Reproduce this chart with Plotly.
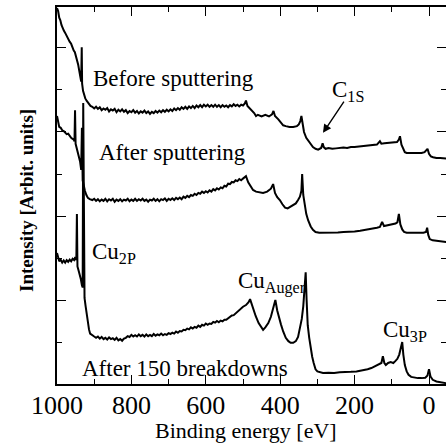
import plotly.graph_objects as go

# ---------------- data ----------------
before_energy = [1000, 997, 994, 991, 988, 985, 982, 978, 974, 970, 966, 962, 958, 955, 952, 949, 946, 943, 940, 937, 935,
                 933.5, 932.5, 930, 927, 924, 920, 915, 910, 905,
                 900, 895, 890, 885, 880, 875, 870, 865, 860, 855, 850, 845, 840, 835, 830, 825, 820, 815, 810, 805,
                 800, 795, 790, 785, 780, 775, 770, 765, 760, 755, 750, 745, 740, 735, 730, 725, 720, 715, 710, 705,
                 700, 695, 690, 685, 680, 675, 670, 665, 660, 655, 650, 645, 640, 635, 630, 625, 620, 615, 610, 605,
                 600, 595, 590, 585, 580, 575, 570, 565, 560, 555, 550, 545, 540, 535, 530, 525, 520, 515, 510, 505,
                 500, 495, 492, 488, 480, 470, 465, 460, 450, 440, 430, 422, 418, 414, 405, 398, 392, 385, 375, 365, 355,
                 350, 346, 343, 340, 336, 330, 325, 318, 312, 305, 298, 290, 286, 283, 278, 270, 260, 250, 240, 230,
                 220, 210, 200, 190, 180, 170, 160, 150, 140, 132, 128, 120, 110, 100, 92, 86, 81, 78, 74, 70, 65,
                 60, 50, 40, 30, 20, 12, 8, 4, 0, -5, -11, -20, -30, -46]
before_value = [8.95, 8.88, 8.72, 8.66, 8.55, 8.47, 8.42, 8.36, 8.28, 8.24, 8.15, 8.10, 7.98, 7.94, 7.90, 7.80, 7.76, 7.60, 7.45, 7.30, 7.20,
                8.02, 7.15, 6.98, 6.88, 6.80, 6.74, 6.68, 6.62, 6.60,
                6.56, 6.60, 6.55, 6.59, 6.52, 6.56, 6.53, 6.57, 6.49, 6.54, 6.51, 6.55, 6.47, 6.53, 6.49, 6.54, 6.48, 6.52, 6.45, 6.50,
                6.47, 6.52, 6.46, 6.50, 6.44, 6.49, 6.46, 6.51, 6.45, 6.49, 6.43, 6.48, 6.45, 6.50, 6.46, 6.51, 6.47, 6.52, 6.48, 6.53,
                6.49, 6.54, 6.50, 6.56, 6.52, 6.57, 6.53, 6.59, 6.55, 6.60, 6.55, 6.61, 6.57, 6.62, 6.57, 6.63, 6.59, 6.64, 6.59, 6.65,
                6.61, 6.65, 6.60, 6.64, 6.60, 6.65, 6.60, 6.64, 6.59, 6.64, 6.60, 6.63, 6.59, 6.64, 6.61, 6.66, 6.62, 6.65, 6.61, 6.65,
                6.63, 6.68, 6.75, 6.62, 6.55, 6.45, 6.38, 6.41, 6.37, 6.41, 6.37, 6.42, 6.50, 6.38, 6.30, 6.22, 6.16, 6.14, 6.12, 6.12, 6.14,
                6.18, 6.26, 6.38, 6.20, 6.00, 5.86, 5.80, 5.70, 5.64, 5.60, 5.58, 5.62, 5.73, 5.64, 5.60, 5.62, 5.60, 5.61, 5.62, 5.63,
                5.62, 5.64, 5.64, 5.65, 5.66, 5.67, 5.68, 5.70, 5.70, 5.78, 5.72, 5.73, 5.74, 5.74, 5.76, 5.76, 5.82, 5.90, 5.70, 5.60, 5.52,
                5.50, 5.50, 5.50, 5.51, 5.50, 5.52, 5.56, 5.60, 5.48, 5.42, 5.40, 5.38, 5.38, 5.37]

after_energy = [1000, 997, 994, 990, 986, 982, 978, 974, 970, 966, 962, 959, 955, 953, 951.5, 950, 947, 944, 941, 938, 935,
                933, 931, 928, 925, 921, 917, 912, 908,
                905, 900, 895, 890, 885, 880, 875, 870, 865, 860, 855, 850, 845, 840, 835, 830, 825, 820, 815, 810,
                805, 800, 795, 790, 785, 780, 775, 770, 765, 760, 755, 750, 745, 740, 735, 730, 725, 720, 715, 710,
                705, 700, 695, 690, 685, 680, 675, 670, 665, 660, 655, 650, 645, 640, 635, 630, 625, 620, 615, 610,
                605, 600, 595, 590, 585, 580, 575, 570, 565, 560, 555, 550, 545, 540, 535, 530, 525, 520, 515, 510,
                505, 500, 492, 486, 480, 473, 465, 455, 446, 435, 425, 419, 414, 408, 401, 394, 387, 380, 372, 365, 358,
                352, 347, 343, 341, 338, 334, 330, 325, 318, 312, 305, 295, 285, 275, 260, 245, 230, 215, 200, 185,
                170, 155, 140, 132, 126, 121, 110, 100, 90, 85, 81, 77, 72, 67, 60, 45, 30, 15, 8, 5, 2, -2, -10,
                -25, -46]
after_value = [6.38, 6.20, 6.12, 6.10, 6.04, 6.02, 5.97, 5.95, 5.96, 5.90, 5.86, 5.84, 5.82, 5.78, 6.52, 5.72, 5.62, 5.50, 5.40, 5.30, 5.10,
               6.10, 4.85, 4.70, 4.60, 4.50, 4.43, 4.40, 4.39,
               4.38, 4.41, 4.36, 4.40, 4.35, 4.39, 4.36, 4.41, 4.35, 4.40, 4.37, 4.41, 4.34, 4.39, 4.36, 4.40, 4.35, 4.39, 4.37, 4.41,
               4.35, 4.39, 4.36, 4.41, 4.36, 4.40, 4.37, 4.41, 4.36, 4.39, 4.34, 4.39, 4.37, 4.41, 4.36, 4.40, 4.35, 4.40, 4.38, 4.42,
               4.36, 4.41, 4.38, 4.42, 4.38, 4.43, 4.40, 4.44, 4.40, 4.46, 4.43, 4.48, 4.45, 4.50, 4.48, 4.53, 4.50, 4.55, 4.53, 4.58,
               4.55, 4.59, 4.56, 4.61, 4.58, 4.64, 4.61, 4.66, 4.63, 4.68, 4.66, 4.72, 4.70, 4.77, 4.76, 4.81, 4.80, 4.85, 4.83, 4.88,
               4.85, 4.89, 4.95, 4.80, 4.70, 4.62, 4.58, 4.56, 4.55, 4.58, 4.65, 4.76, 4.55, 4.45, 4.38, 4.28, 4.20, 4.18, 4.22, 4.26, 4.30,
               4.38, 4.46, 4.60, 5.00, 4.50, 4.20, 4.05, 3.90, 3.75, 3.67, 3.62, 3.60, 3.60, 3.61, 3.60, 3.61, 3.62, 3.62, 3.63, 3.65,
               3.67, 3.70, 3.72, 3.74, 3.86, 3.76, 3.78, 3.79, 3.82, 3.85, 4.05, 3.80, 3.68, 3.62, 3.60, 3.60, 3.60, 3.60, 3.62, 3.72, 3.55, 3.45, 3.42,
               3.40, 3.38]

breakdown_energy = [1000, 997, 994, 990, 986, 982, 978, 974, 970, 966, 962, 958, 954, 951, 948, 946.5, 945, 942, 939, 936, 933,
                    931, 929.5, 928, 926, 923, 920, 917, 914, 911, 905,
                    900, 895, 890, 885, 880, 875, 870, 865, 860, 855, 850, 845, 840, 835, 830, 825, 820, 815, 810, 805,
                    800, 795, 790, 785, 780, 775, 770, 765, 760, 755, 750, 745, 740, 735, 730, 725, 720, 715, 710, 705,
                    700, 695, 690, 685, 680, 675, 670, 665, 660, 655, 650, 645, 640, 635, 630, 625, 620, 615, 610, 605,
                    600, 595, 590, 585, 580, 575, 570, 565, 560, 555, 550, 545, 540, 535, 530, 525, 520, 515, 510, 505,
                    500, 492, 485, 481, 477, 472, 466, 458, 450, 446, 440, 432, 425, 418, 413, 408, 403, 398, 392, 385, 378,
                    372, 365, 358, 352, 347, 342, 338, 335, 333, 331.5, 329, 326, 322, 318, 314, 310, 305, 300, 292, 285,
                    270, 255, 240, 225, 210, 195, 180, 165, 155, 145, 135, 128, 124, 120, 116, 110, 103, 96, 90, 85, 80,
                    75, 72, 69, 65, 60, 55, 48, 40, 30, 20, 10, 4, 0, -4, -10, -20, -30, -46]
breakdown_value = [3.12, 3.00, 2.92, 2.96, 2.89, 2.94, 2.89, 2.95, 2.91, 2.96, 2.92, 2.98, 2.95, 3.02, 2.95, 4.05, 2.80, 2.70, 2.62, 2.50, 2.35,
                   2.30, 6.69, 2.20, 2.05, 1.85, 1.65, 1.45, 1.30, 1.20, 1.15,
                   1.13, 1.10, 1.13, 1.08, 1.12, 1.07, 1.10, 1.06, 1.11, 1.07, 1.09, 1.05, 1.10, 1.04, 1.07, 1.03, 1.08, 1.10, 1.14, 1.12,
                   1.17, 1.13, 1.16, 1.13, 1.18, 1.14, 1.17, 1.13, 1.18, 1.14, 1.17, 1.14, 1.19, 1.15, 1.18, 1.16, 1.20, 1.16, 1.19, 1.17,
                   1.21, 1.19, 1.22, 1.20, 1.25, 1.22, 1.26, 1.25, 1.29, 1.28, 1.32, 1.30, 1.35, 1.32, 1.36, 1.34, 1.39, 1.36, 1.41, 1.39,
                   1.44, 1.41, 1.44, 1.43, 1.48, 1.46, 1.50, 1.47, 1.51, 1.49, 1.53, 1.53, 1.57, 1.59, 1.63, 1.64, 1.68, 1.70, 1.75, 1.79,
                   1.84, 1.88, 1.95, 2.02, 1.90, 1.78, 1.62, 1.45, 1.34, 1.29, 1.35, 1.45, 1.60, 1.80, 2.00, 1.75, 1.55, 1.42, 1.25, 1.10, 1.02,
                   0.98, 0.98, 1.02, 1.12, 1.30, 1.55, 1.85, 2.20, 2.40, 2.66, 2.00, 1.40, 1.10, 0.85, 0.65, 0.50, 0.35, 0.30, 0.27, 0.26,
                   0.27, 0.26, 0.28, 0.28, 0.29, 0.30, 0.32, 0.35, 0.38, 0.42, 0.46, 0.50, 0.66, 0.50, 0.45, 0.50, 0.52, 0.50, 0.55, 0.60, 0.70,
                   0.85, 1.00, 0.70, 0.45, 0.30, 0.22, 0.17, 0.15, 0.14, 0.14, 0.15, 0.20, 0.35, 0.18, 0.10, 0.06, 0.04, 0.02]

x_tick_values = [1000, 800, 600, 400, 200, 0]
x_tick_labels = ["1000", "800", "600", "400", "200", "0"]

# ---------------- figure ----------------
FONT = "Liberation Serif"
fig = go.Figure()
for xs, ys in [(before_energy, before_value), (after_energy, after_value), (breakdown_energy, breakdown_value)]:
    fig.add_trace(go.Scatter(x=xs, y=ys, mode="lines",
                             line=dict(color="black", width=2), showlegend=False, hoverinfo="skip"))
# helper trace so the right-hand tick axis is drawn
fig.add_trace(go.Scatter(x=[None], y=[None], yaxis="y2", showlegend=False, hoverinfo="skip"))

YR = [0, 8.976]
XR = [1000, -45.7]
fig.update_layout(
    width=446, height=443,
    margin=dict(l=57, r=0, t=7, b=59),
    paper_bgcolor="white", plot_bgcolor="white",
    font=dict(family=FONT, color="black"),
    xaxis=dict(range=XR, tickvals=x_tick_values, ticktext=x_tick_labels,
               ticks="inside", ticklen=9, tickwidth=1.3, tickcolor="black",
               minor=dict(dtick=100, tick0=0, ticks="inside", ticklen=5, tickwidth=1.3, tickcolor="black"),
               showline=True, linecolor="black", linewidth=1.6, mirror="ticks",
               showgrid=False, zeroline=False, ticklabelstandoff=-3,
               tickfont=dict(family=FONT, size=26, color="black")),
    yaxis=dict(range=YR, dtick=2, tick0=0, ticks="inside", ticklen=9, tickwidth=1.3, tickcolor="black",
               minor=dict(dtick=1, tick0=0, ticks="inside", ticklen=5, tickwidth=1.3, tickcolor="black"),
               showticklabels=False, showline=True, linecolor="black", linewidth=1.8,
               showgrid=False, zeroline=False),
    yaxis2=dict(range=YR, overlaying="y", side="right", dtick=2, tick0=0,
                ticks="inside", ticklen=9, tickwidth=1.3, tickcolor="black",
                minor=dict(dtick=1, tick0=0, ticks="inside", ticklen=5, tickwidth=1.3, tickcolor="black"),
                showticklabels=False, showline=False, showgrid=False, zeroline=False),
)

TF = dict(family=FONT, size=23, color="black")
labels = [
    ("Before sputtering", 908.6, 7.27),
    ("After sputtering", 892.5, 5.52),
    ("Cu<sub>2P</sub>", 911, 3.12),
    ("Cu<sub>Auger</sub>", 519, 2.42),
    ("Cu<sub>3P</sub>", 129, 1.26),
    ("C<sub>1S</sub>", 266, 6.98),
    ("After 150 breakdowns", 938, 0.38),
]
for txt, xx, yy in labels:
    fig.add_annotation(x=xx, y=yy, xref="x", yref="y", text=txt, showarrow=False,
                       xanchor="left", yanchor="middle", font=TF)

# arrow pointing at the C1s peak
fig.add_annotation(x=285, y=5.98, xref="x", yref="y", ax=226, ay=6.76, axref="x", ayref="y",
                   text="", showarrow=True, arrowhead=2, arrowsize=1.2, arrowwidth=1.4, arrowcolor="black")

# axis titles
fig.add_annotation(x=(246 - 57) / 389, y=(384 - 430) / 377, xref="paper", yref="paper",
                   text="Binding energy [eV]", showarrow=False, xanchor="center", yanchor="middle",
                   borderpad=0, font=dict(family=FONT, size=22, color="black"))
fig.add_annotation(x=(26 - 57) / 389, y=(384 - 201) / 377, xref="paper", yref="paper",
                   text="<b>Intensity [Arbit. units]</b>", showarrow=False, textangle=-90,
                   xanchor="center", yanchor="middle",
                   font=dict(family=FONT, size=19, color="black"))

fig.write_html("out.html")
